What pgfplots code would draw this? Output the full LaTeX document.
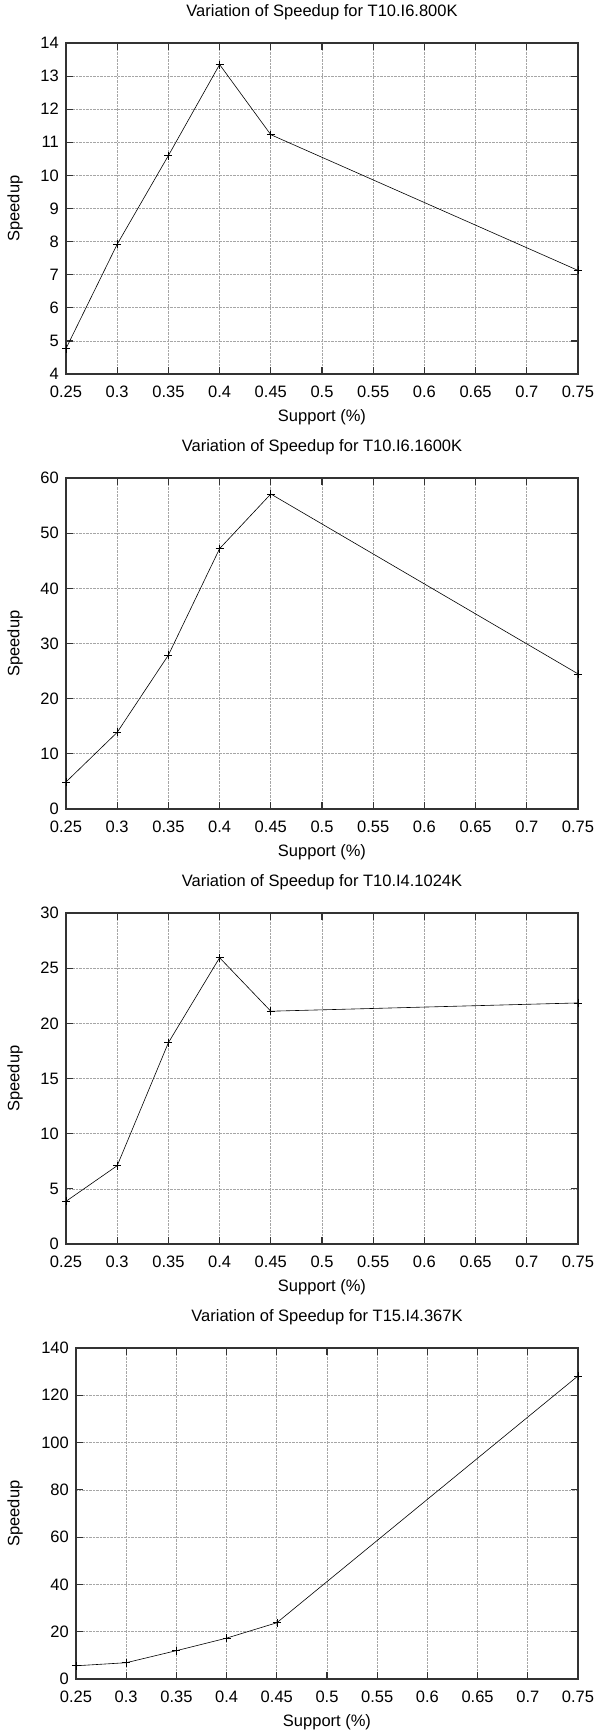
\documentclass[border=0pt]{standalone}
\usepackage{fontspec}
\setmainfont{Liberation Sans}
\usepackage{pgfplots}
\pgfplotsset{compat=1.18}

% 1pt here = 1px of the reference
\newcommand\fsz{\fontsize{16.5}{19}\selectfont}

\pgfplotsset{
  gp/.style={
    scale only axis, height=331pt,
    xmin=0.25, xmax=0.75,
    xtick={0.25,0.3,0.35,0.4,0.45,0.5,0.55,0.6,0.65,0.7,0.75},
    xticklabels={0.25,0.3,0.35,0.4,0.45,0.5,0.55,0.6,0.65,0.7,0.75},
    /pgf/number format/assume math mode=true,
    tick align=inside, major tick length=7pt,
    xtick pos=both, ytick pos=both,
    tick style={black!80, line width=1.2pt},
    axis line style={black!80, line width=1.3pt},
    grid=major, grid style={densely dotted, black!35, line width=0.7pt},
    tick label style={font=\fsz},
    xticklabel style={anchor=center, yshift=-18pt},
    yticklabel style={anchor=east, inner sep=0pt, xshift=-7pt},
    title style={font=\fsz, at={(0.5,1)}, anchor=center, yshift=24.5pt},
    xlabel style={font=\fsz, at={(axis description cs:0.5,-0.13)}, anchor=center},
    xlabel={Support (\%)}, ylabel={Speedup},
    clip=false,
  },
  gpline/.style={black, line width=0.6pt, mark=+, mark size=4pt,
    mark options={line width=0.6pt}},
}

\begin{document}
\begin{tikzpicture}
\useasboundingbox (0,0) rectangle (598pt,-1733pt);

\begin{axis}[gp, width=512pt, at={(66pt,-374pt)}, anchor=south west,
  ymin=4, ymax=14, ytick={4,5,...,14},
  ylabel style={font=\fsz, at={(axis description cs:-0.0996,0.5)}, anchor=center, rotate=0},
  title={Variation of Speedup for T10.I6.800K}]
\addplot[gpline] coordinates {
  (0.25,4.77) (0.3,7.92) (0.35,10.6) (0.4,13.35) (0.45,11.23) (0.75,7.13)
};
\end{axis}

\begin{axis}[gp, width=512pt, at={(66pt,-809pt)}, anchor=south west,
  ymin=0, ymax=60, ytick={0,10,...,60},
  ylabel style={font=\fsz, at={(axis description cs:-0.0996,0.5)}, anchor=center, rotate=0},
  title={Variation of Speedup for T10.I6.1600K}]
\addplot[gpline] coordinates {
  (0.25,4.9) (0.3,13.9) (0.35,27.9) (0.4,47.2) (0.45,57.1) (0.75,24.5)
};
\end{axis}

\begin{axis}[gp, width=512pt, at={(66pt,-1244pt)}, anchor=south west,
  ymin=0, ymax=30, ytick={0,5,...,30},
  ylabel style={font=\fsz, at={(axis description cs:-0.0996,0.5)}, anchor=center, rotate=0},
  title={Variation of Speedup for T10.I4.1024K}]
\addplot[gpline] coordinates {
  (0.25,3.87) (0.3,7.1) (0.35,18.25) (0.4,25.95) (0.45,21.1) (0.75,21.85)
};
\end{axis}

\begin{axis}[gp, width=502pt, at={(76pt,-1679pt)}, anchor=south west,
  ymin=0, ymax=140, ytick={0,20,...,140},
  ylabel style={font=\fsz, at={(axis description cs:-0.1215,0.5)}, anchor=center, rotate=0},
  title={Variation of Speedup for T15.I4.367K}]
\addplot[gpline] coordinates {
  (0.25,5.6) (0.3,6.9) (0.35,12.0) (0.4,17.3) (0.45,23.8) (0.75,128.2)
};
\end{axis}
\end{tikzpicture}
\end{document}
